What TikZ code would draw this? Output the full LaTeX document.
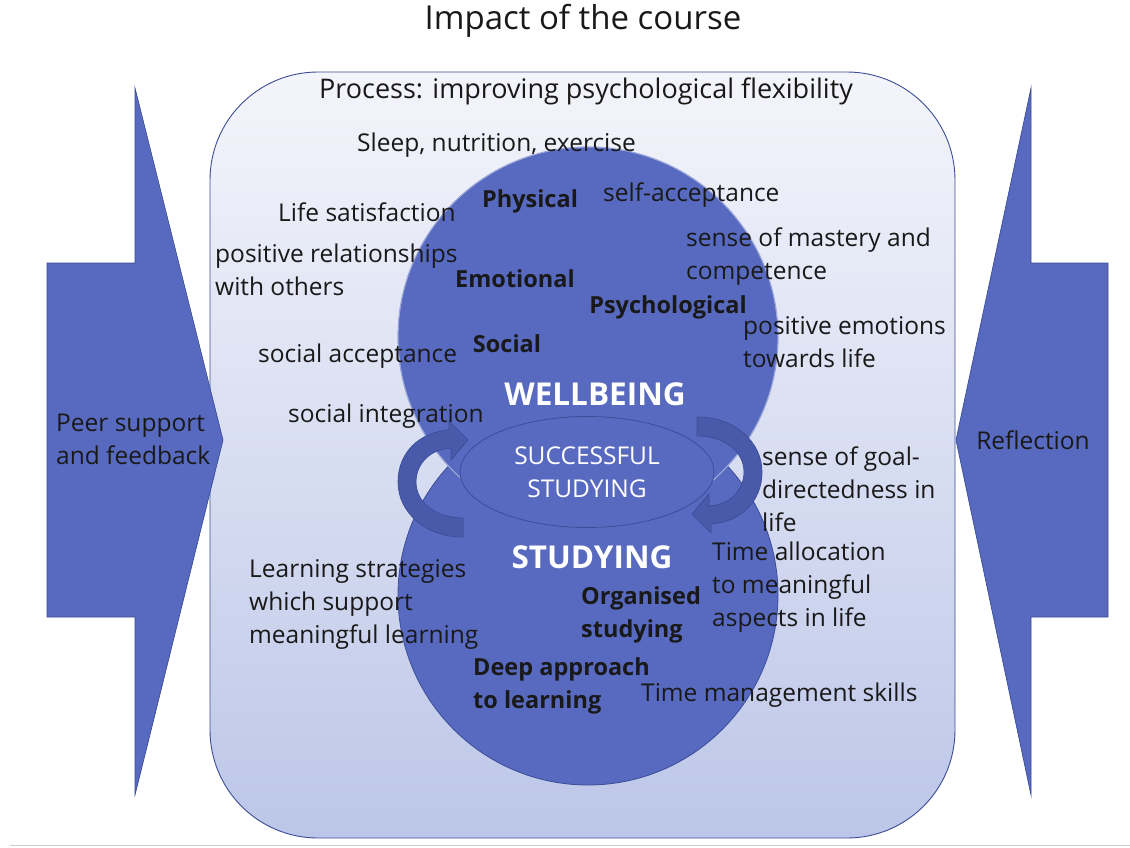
\documentclass[tikz,border=0pt]{standalone}
\usepackage{fontspec}
\setmainfont{Open Sans}
\usetikzlibrary{shapes.geometric}

\definecolor{accent}{RGB}{88,106,192}
\definecolor{accentdark}{RGB}{60,76,150}
\definecolor{loopblue}{RGB}{74,90,170}
\definecolor{paletop}{RGB}{244,245,251}
\definecolor{palebottom}{RGB}{188,198,232}

% one curved arrow band, turned round for the second one
\def\loopband{(463,537) .. controls (425,537) and (398,512) .. (398,482)
  .. controls (398,452) and (420,432) .. (449,430) -- (449,421) -- (468,440)
  -- (451,460) -- (451,448) .. controls (430,449) and (416,464) .. (416,482)
  .. controls (416,502) and (435,518) .. (463,518) -- cycle}

\begin{document}
\begin{tikzpicture}[x=1pt,y=-1pt,
  txt/.style={font=\fontsize{24.5}{33}\selectfont, align=left, inner sep=0pt, text=black!90},
  key/.style={txt, font=\fontsize{23.5}{33.5}\selectfont\bfseries},
  big/.style={font=\fontsize{31.5}{36}\selectfont\bfseries, text=white, inner sep=0pt},
  blob/.style={circle, fill=accent, minimum size=380pt, inner sep=0pt},
  block/.style={fill=accent, draw=accentdark, line width=0.7pt, line join=miter},
  turn/.style={fill=loopblue, draw=accentdark, line width=0.7pt}]
\useasboundingbox (0,0) rectangle (1130,847);

\node[txt, font=\fontsize{33}{38}\selectfont] (title) at (583,21) {Impact of the course};

% process frame
\node[draw=accentdark, line width=0.9pt, rounded corners=108pt, top color=paletop, bottom color=palebottom,
  minimum width=745pt, minimum height=766pt] (frame) at (582.5,455) {};
\node[txt, font=\fontsize{27}{33}\selectfont] (process) at (586,91) {Process: improving psychological flexibility};

% side arrows
\draw[block] (47,263) -- (135,263) -- (135,88) -- (223,440) -- (135,795) -- (135,617) -- (47,617) -- cycle;
\draw[block] (1108,263) -- (1031,263) -- (1031,88) -- (956,440) -- (1031,795) -- (1031,617) -- (1108,617) -- cycle;
\node[txt, anchor=west] (peer) at (56,439.5) {Peer support\\and feedback};
\node[txt] (reflection) at (1033,440) {Reflection};

% the two circles
\node[blob, draw=accentdark, line width=0.8pt] (studycircle) at (588,595) {};
\node[blob, draw=accent!60!white, line width=1.2pt] (wellcircle) at (588,337) {};
\fill[accent] (wellcircle.center) circle (189pt);
\node[ellipse, fill=accent, draw=accentdark, line width=0.8pt, minimum width=254pt, minimum height=111pt,
  inner sep=0pt, align=center, text=white, font=\fontsize{24.5}{33}\selectfont] (success) at (587,472)
  {SUCCESSFUL\\STUDYING};

% curved arrows
\filldraw[turn] \loopband;
\filldraw[turn, rotate around={180:(580,477)}] \loopband;

\node[big] (wellbeing) at (595,394) {WELLBEING};
\node[big] (studying) at (592,557) {STUDYING};

% wellbeing labels
\node[txt, anchor=west] (sleep) at (357,145) {Sleep, nutrition, exercise};
\node[key] (physical) at (530,201) {Physical};
\node[txt, anchor=west] (selfacc) at (603,195) {self-acceptance};
\node[txt, anchor=west] (lifesat) at (278,212) {Life satisfaction};
\node[txt, anchor=west] (mastery) at (686,256.5) {sense of mastery and\\competence};
\node[txt, anchor=west] (relations) at (215,269.5) {positive relationships\\with others};
\node[key] (emotional) at (515,279) {Emotional};
\node[key] (psych) at (668,307) {Psychological};
\node[txt, anchor=west] (posemo) at (743,342.5) {positive emotions\\towards life};
\node[key] (social) at (507,344) {Social};
\node[txt, anchor=west] (socacc) at (258,356) {social acceptance};
\node[txt, anchor=west] (socint) at (288,416) {social integration};
\node[txt, anchor=west] (goal) at (762,489) {sense of goal-\\directedness in\\life};

% studying labels
\node[txt, anchor=west] (timealloc) at (712,587.5) {Time allocation\\to meaningful\\aspects in life};
\node[txt, anchor=west] (strategies) at (249,604) {Learning strategies\\which support\\meaningful learning};
\node[key, anchor=west] (organised) at (581,615) {Organised\\studying};
\node[key, anchor=west] (deep) at (473,686) {Deep approach\\to learning};
\node[txt, anchor=west] (timemgmt) at (641,695) {Time management skills};

\draw[black!20, line width=0.8pt] (10,845) -- (1130,845);
\end{tikzpicture}
\end{document}
